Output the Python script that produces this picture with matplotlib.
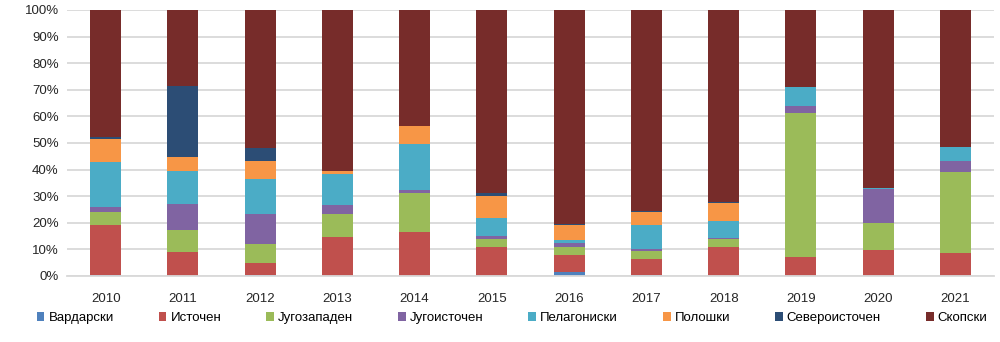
import numpy as np
import matplotlib.pyplot as plt
from matplotlib.ticker import PercentFormatter

plt.rcParams['font.family'] = ['Liberation Sans', 'DejaVu Sans']

years = ['2010', '2011', '2012', '2013', '2014', '2015',
         '2016', '2017', '2018', '2019', '2020', '2021']

# share of each region per year, in percent
vardarski      = [0.3, 0.0, 0.3, 0.0, 0.0, 0.0, 1.5, 0.5, 0.0, 0.0, 0.0, 0.0]
istochen       = [18.7, 9.0, 4.7, 14.7, 16.5, 11.0, 6.4, 6.0, 11.0, 7.3, 9.8, 8.6]
jugozapaden    = [5.1, 8.3, 6.9, 8.6, 14.7, 3.0, 2.9, 3.0, 3.0, 54.1, 10.0, 30.5]
jugoistochen   = [1.7, 9.7, 11.5, 3.3, 1.1, 1.0, 1.5, 0.7, 0.4, 2.5, 13.0, 4.0]
pelagoniski    = [16.9, 12.5, 13.2, 11.9, 17.3, 6.9, 1.3, 8.8, 6.4, 7.3, 0.2, 5.5]
poloshki       = [8.8, 5.1, 6.5, 1.0, 6.8, 8.3, 5.4, 4.9, 6.5, 0.0, 0.0, 0.0]
severoistochen = [0.6, 26.9, 5.1, 0.1, 0.0, 0.9, 0.4, 0.5, 0.5, 0.0, 0.0, 0.0]
skopski        = [47.9, 28.5, 51.8, 60.4, 43.6, 68.9, 80.6, 75.6, 72.2, 28.8, 67.0, 51.4]

series = [
    ('Вардарски', vardarski, '#4F81BD'),
    ('Источен', istochen, '#C0504D'),
    ('Југозападен', jugozapaden, '#9BBB59'),
    ('Југоисточен', jugoistochen, '#8064A2'),
    ('Пелагониски', pelagoniski, '#4BACC6'),
    ('Полошки', poloshki, '#F79646'),
    ('Североисточен', severoistochen, '#2C4D75'),
    ('Скопски', skopski, '#772C2A'),
]

fig = plt.figure(figsize=(10, 3.42), dpi=100)
ax = fig.add_axes([0.067, 0.193, 0.927, 0.778])

x = np.arange(len(years))
totals = np.sum([s[1] for s in series], axis=0)
bottom = np.zeros(len(years))
for name, vals, color in series:
    share = np.array(vals) / totals * 100
    ax.bar(x, share, width=0.4, bottom=bottom, color=color, label=name)
    bottom += share

ax.set_xlim(-0.5, len(years) - 0.5)
ax.set_ylim(0, 100)
ax.set_yticks(np.arange(0, 101, 10))
ax.yaxis.set_major_formatter(PercentFormatter(decimals=0))
ax.set_xticks(x)
ax.set_xticklabels(years)
ax.tick_params(length=0, labelsize=9.5, colors='#262626')
ax.tick_params(axis='x', pad=12)
ax.tick_params(axis='y', pad=6)
ax.grid(axis='y', color='#D9D9D9', linewidth=1.3)
ax.set_axisbelow(True)
for side in ['top', 'right', 'left']:
    ax.spines[side].set_visible(False)
ax.spines['bottom'].set_color('#D9D9D9')
ax.spines['bottom'].set_linewidth(1.3)

fig.legend(loc='center', bbox_to_anchor=(0.512, 0.07), ncol=8, frameon=False,
           fontsize=9.5, handlelength=0.6, handleheight=0.6, handletextpad=0.3,
           columnspacing=3.4)

plt.savefig('out.png')
